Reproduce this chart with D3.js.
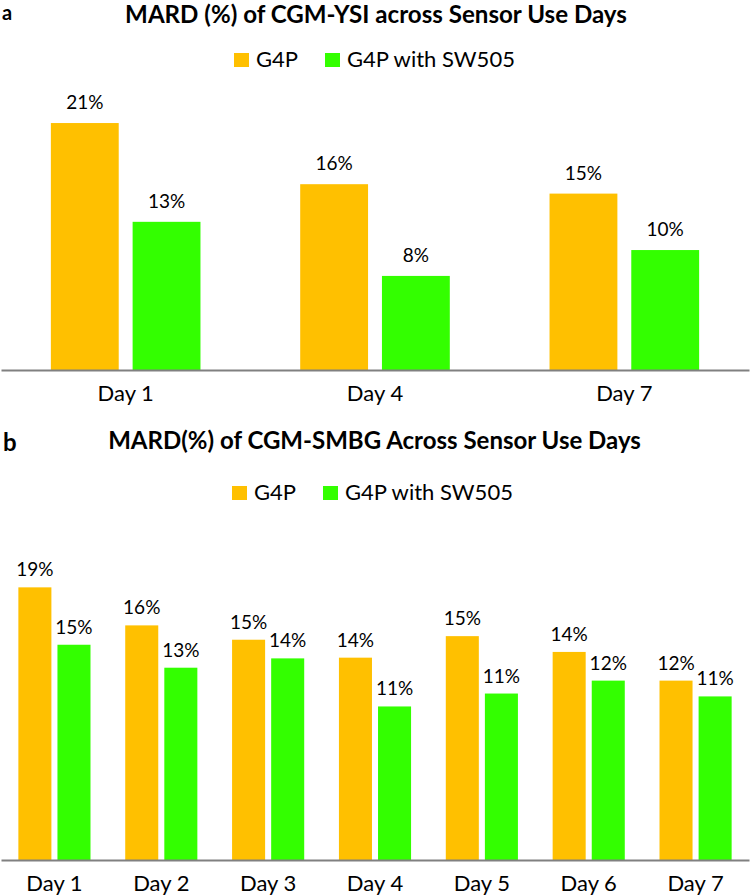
<!DOCTYPE html>
<html>
<head>
<meta charset="utf-8">
<script src="https://cdn.jsdelivr.net/npm/d3@7"></script>
<style>
  html, body { margin: 0; padding: 0; background: #fff; }
  svg { display: block; font-family: Lato, "Open Sans", sans-serif; }
</style>
</head>
<body>
<svg id="chart" width="750" height="896"></svg>
<script>
// ---------- DATA ----------
const seriesNames = ["G4P", "G4P with SW505"];
const seriesColors = ["#FFC000", "#33FF00"];

// Panel a
const titleA = "MARD (%) of CGM-YSI across Sensor Use Days";
const daysA = ["Day 1", "Day 4", "Day 7"];
const g4pA = [21.0, 15.8, 15.0];
const sw505A = [12.6, 8.0, 10.2];
const g4pLabelsA = ["21%", "16%", "15%"];
const sw505LabelsA = ["13%", "8%", "10%"];

// Panel b
const titleB = "MARD(%) of CGM-SMBG Across Sensor Use Days";
const daysB = ["Day 1", "Day 2", "Day 3", "Day 4", "Day 5", "Day 6", "Day 7"];
const g4pB = [19.0, 16.35, 15.35, 14.1, 15.6, 14.5, 12.5];
const sw505B = [15.0, 13.4, 14.05, 10.7, 11.6, 12.5, 11.4];
const g4pLabelsB = ["19%", "16%", "15%", "14%", "15%", "14%", "12%"];
const sw505LabelsB = ["15%", "13%", "14%", "11%", "11%", "12%", "11%"];

// ---------- DRAW ----------
const svg = d3.select("#chart");

function fitText(sel, target) {
  const node = sel.node();
  const w = node.getComputedTextLength();
  const fs = parseFloat(sel.attr("font-size"));
  sel.attr("font-size", (fs * target / w).toFixed(2));
}

function panel(opt) {
  const g = svg.append("g");
  // panel letter
  g.append("text").attr("x", opt.letterX).attr("y", opt.letterY)
    .attr("font-size", opt.letterSize).attr("font-weight", "bold").attr("fill", "#000")
    .text(opt.letter);
  // title
  const t = g.append("text").attr("x", opt.titleX).attr("y", opt.titleY)
    .attr("text-anchor", "middle").attr("font-size", 21).attr("font-weight", "bold")
    .attr("fill", "#000").text(opt.title);
  fitText(t, opt.titleW);

  // legend
  const leg = g.append("g");
  seriesNames.forEach((name, i) => {
    leg.append("rect").attr("x", opt.legX[i]).attr("y", opt.legY - 14)
      .attr("width", 15).attr("height", 14).attr("fill", seriesColors[i]);
    leg.append("text").attr("x", opt.legX[i] + 22).attr("y", opt.legY)
      .attr("font-size", 22).attr("fill", "#000").text(name);
  });

  const x0 = d3.scaleBand().domain(opt.days).range([1, 749])
    .paddingInner(opt.padIn).paddingOuter(opt.padOut);
  const x1 = d3.scaleBand().domain(seriesNames).range([0, x0.bandwidth()])
    .paddingInner(opt.subPad);
  const y = d3.scaleLinear().domain(opt.yDomain).range([opt.base, opt.base - opt.yPx]);

  const series = [opt.g4p, opt.sw505];
  const labels = [opt.g4pLabels, opt.sw505Labels];

  series.forEach((vals, si) => {
    const rows = opt.days.map((d, i) => ({ day: d, v: vals[i], lab: labels[si][i] }));
    g.append("g").selectAll("rect").data(rows).join("rect")
      .attr("x", d => x0(d.day) + x1(seriesNames[si]))
      .attr("y", d => y(d.v))
      .attr("width", x1.bandwidth())
      .attr("height", d => y(0) - y(d.v))
      .attr("fill", seriesColors[si]);
    g.append("g").selectAll("text").data(rows).join("text")
      .attr("x", d => x0(d.day) + x1(seriesNames[si]) + x1.bandwidth() / 2)
      .attr("y", d => y(d.v) - opt.labOff)
      .attr("text-anchor", "middle").attr("font-size", 19).attr("fill", "#000")
      .text(d => d.lab);
  });

  const axis = g.append("g").attr("transform", `translate(0,${opt.base})`)
    .call(d3.axisBottom(x0).tickSize(0).tickPadding(0).tickSizeOuter(0));
  axis.select(".domain").attr("stroke", "#808080").attr("stroke-width", 2);
  axis.selectAll(".tick text").attr("font-size", 22).attr("fill", "#000")
    .attr("font-family", "Lato, 'Open Sans', sans-serif")
    .attr("dy", 0).attr("y", opt.tickY);
}

panel({
  letter: "a", letterX: 2, letterY: 20, letterSize: 20,
  title: titleA, titleX: 376, titleY: 23, titleW: 502,
  legX: [234, 325], legY: 67,
  days: daysA, g4p: g4pA, sw505: sw505A, g4pLabels: g4pLabelsA, sw505Labels: sw505LabelsA,
  padIn: 0.4, padOut: 0.2, subPad: 0.17,
  yDomain: [0, 25], base: 370, yPx: 294,
  labOff: 14, tickY: 31
});

panel({
  letter: "b", letterX: 3, letterY: 451, letterSize: 24,
  title: titleB, titleX: 374.5, titleY: 449, titleW: 533,
  legX: [232, 323], legY: 500,
  days: daysB, g4p: g4pB, sw505: sw505B, g4pLabels: g4pLabelsB, sw505Labels: sw505LabelsB,
  padIn: 0.325, padOut: 0.1625, subPad: 0.155,
  yDomain: [0, 20], base: 860, yPx: 287,
  labOff: 11, tickY: 31
});
</script>
</body>
</html>
